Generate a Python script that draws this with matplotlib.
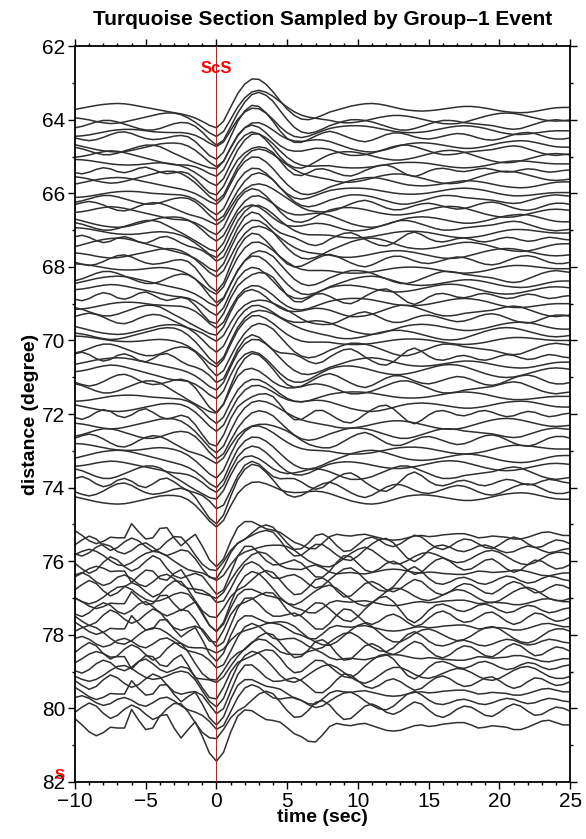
import numpy as np
import matplotlib.pyplot as plt

plt.rcParams['font.family'] = ['Liberation Sans', 'DejaVu Sans']

# time samples of every trace (sec)
time = np.arange(-10, 25.5, 0.5)

# baseline distance of each trace (degree)
dist = [63.72, 63.95, 64.12, 64.30, 64.45, 64.68, 64.85, 65.02, 65.20, 65.38,
        65.55, 65.75, 65.98, 66.15, 66.35, 66.52, 66.70, 66.90, 67.08, 67.25,
        67.45, 67.62, 67.82, 68.05, 68.25, 68.45, 68.62, 68.80, 69.00, 69.22,
        69.40, 69.62, 69.80, 70.00, 70.22, 70.45, 70.65, 70.85, 71.08, 71.30,
        71.52, 71.75, 72.00, 72.25, 72.50, 72.72, 72.95, 73.20, 73.42, 73.62,
        73.85, 74.05, 74.25,
        75.30, 75.50, 75.68, 75.90, 76.12, 76.32, 76.50, 76.72, 76.92, 77.10,
        77.30, 77.55, 77.78, 78.00, 78.20, 78.42, 78.65, 78.85, 79.05, 79.30,
        79.55, 79.80, 80.05, 80.45]

# ScS trough (at 0 s) and following peak (~2.7 s) size per trace
dip_amp = [0.50, 0.45, 0.55, 0.48, 0.52, 0.60, 0.50, 0.58, 0.55, 0.62,
           0.60, 0.55, 0.65, 0.58, 0.62, 0.66, 0.60, 0.70, 0.62, 0.65,
           0.68, 0.60, 0.72, 0.65, 0.70, 0.62, 0.75, 0.68, 0.72, 0.66,
           0.75, 0.70, 0.78, 0.68, 0.72, 0.76, 0.70, 0.80, 0.74, 0.70,
           0.78, 0.72, 0.80, 0.75, 0.70, 0.78, 0.74, 0.80, 0.76, 0.72,
           0.80, 0.78, 0.82,
           0.72, 0.78, 0.70, 0.82, 0.75, 0.80, 0.72, 0.84, 0.78, 0.70,
           0.80, 0.75, 0.82, 0.72, 0.78, 0.84, 0.76, 0.80, 0.72, 0.82,
           0.78, 0.84, 0.80, 0.82]
peak_amp = [0.78, 0.72, 0.80, 0.70, 0.75, 0.68, 0.74, 0.70, 0.76, 0.66,
            0.72, 0.68, 0.74, 0.65, 0.70, 0.66, 0.72, 0.62, 0.68, 0.70,
            0.64, 0.70, 0.62, 0.66, 0.60, 0.68, 0.62, 0.66, 0.58, 0.64,
            0.60, 0.66, 0.58, 0.62, 0.60, 0.55, 0.62, 0.56, 0.60, 0.58,
            0.54, 0.60, 0.55, 0.58, 0.52, 0.56, 0.55, 0.50, 0.56, 0.52,
            0.50, 0.54, 0.48,
            0.45, 0.40, 0.48, 0.42, 0.38, 0.45, 0.40, 0.36, 0.44, 0.40,
            0.38, 0.42, 0.36, 0.40, 0.44, 0.35, 0.40, 0.38, 0.42, 0.36,
            0.40, 0.38, 0.42, 0.48]

# which background wiggle each trace carries, and how strong (signed)
noise_id = [0, 3, 5, 7, 2, 0, 5, 3, 7, 6,
            3, 0, 7, 5, 2, 3, 0, 5, 7, 6,
            0, 3, 2, 7, 5, 0, 3, 6, 7, 5,
            2, 0, 3, 7, 5, 6, 0, 3, 2, 5,
            7, 0, 6, 3, 5, 2, 7, 0, 3, 5,
            6, 2, 0,
            1, 4, 6, 2, 4, 1, 6, 4, 2, 1,
            6, 4, 1, 2, 6, 4, 1, 6, 2, 4,
            1, 6, 4, 1]
noise_amp = [0.18, 0.22, -0.20, 0.25, 0.15, -0.22, 0.20, -0.25, -0.20, 0.15,
             0.25, 0.20, 0.22, -0.18, -0.16, -0.22, -0.25, 0.20, -0.24, -0.18,
             0.26, 0.20, 0.18, -0.22, -0.25, 0.22, -0.20, 0.20, 0.26, 0.22,
             -0.18, -0.24, 0.25, -0.20, -0.24, -0.22, 0.20, -0.26, 0.20, 0.25,
             0.22, -0.20, 0.24, 0.22, -0.20, -0.22, -0.25, 0.24, -0.20, 0.26,
             -0.25, 0.22, -0.22,
             0.32, 0.26, 0.30, -0.28, -0.30, -0.26, -0.32, 0.28, 0.30, 0.27,
             0.34, -0.28, 0.30, -0.32, -0.26, 0.30, -0.28, 0.32, 0.27, -0.26,
             0.30, -0.24, 0.28, 0.42]

dip_shape = [0.0] * 13 + [0.02, 0.05, 0.1, 0.2, 0.36, 0.58, 0.83, 1.0,
                          0.8, 0.42, 0.15, 0.04] + [0.0] * 46
peak_shape = [0.0] * 21 + [-0.08, -0.3, -0.58, -0.83, -0.98, -0.98, -0.83,
                           -0.6, -0.33, -0.1, 0.06, 0.14, 0.14, 0.09,
                           0.04] + [0.0] * 35

noise_bank = [
    [0.0, -0.2, -0.4, -0.6, -0.75, -0.85, -0.9, -0.85, -0.7, -0.5,
     -0.3, -0.1, 0.1, 0.25, 0.35, 0.4, 0.38, 0.3, 0.2, 0.1,
     0.0, -0.1, -0.2, -0.3, -0.35, -0.35, -0.3, -0.2, -0.05, 0.15,
     0.4, 0.65, 0.85, 0.95, 0.9, 0.7, 0.4, 0.1, -0.2, -0.5,
     -0.7, -0.85, -0.9, -0.8, -0.6, -0.35, -0.1, 0.1, 0.2, 0.25,
     0.2, 0.1, -0.05, -0.2, -0.35, -0.45, -0.45, -0.35, -0.2, 0.0,
     0.2, 0.35, 0.45, 0.5, 0.45, 0.3, 0.1, -0.1, -0.25, -0.3,
     -0.3],
    [-0.4, 0.0, 0.45, 0.7, 0.5, 0.15, 0.2, 0.2, -1.0, -0.3,
     0.3, 0.2, -0.6, -0.7, 0.1, 0.65, -0.1, -0.9, -0.4, 0.2,
     0.4, 0.3, 0.0, -0.2, -0.1, 0.2, 0.5, 0.6, 0.4, 0.2,
     0.3, 0.5, 0.6, 0.9, 1.0, 0.6, 0.1, -0.1, 0.0, 0.05,
     -0.05, -0.1, 0.05, 0.2, 0.35, 0.4, 0.35, 0.2, 0.05, 0.0,
     0.1, 0.05, -0.05, -0.1, -0.15, -0.15, 0.0, 0.2, 0.15, 0.05,
     0.1, 0.15, 0.3, 0.3, 0.15, -0.05, -0.25, -0.3, -0.15, 0.0,
     0.0],
    [0.3, 0.6, 0.8, 0.6, 0.2, -0.3, -0.7, -0.8, -0.5, 0.0,
     0.4, 0.6, 0.5, 0.2, -0.2, -0.5, -0.6, -0.3, 0.2, 0.6,
     0.7, 0.5, 0.1, -0.3, -0.6, -0.7, -0.5, -0.1, 0.3, 0.7,
     0.9, 0.8, 0.4, -0.1, -0.5, -0.8, -0.9, -0.6, -0.1, 0.4,
     0.8, 1.0, 0.7, 0.2, -0.3, -0.6, -0.6, -0.3, 0.1, 0.4,
     0.5, 0.3, 0.0, -0.3, -0.5, -0.4, -0.1, 0.3, 0.6, 0.7,
     0.5, 0.1, -0.3, -0.6, -0.7, -0.5, -0.1, 0.3, 0.5, 0.5,
     0.3],
    [0.0, 0.1, 0.25, 0.45, 0.6, 0.7, 0.65, 0.5, 0.3, 0.1,
     -0.1, -0.3, -0.5, -0.65, -0.7, -0.6, -0.4, -0.2, 0.0, 0.15,
     0.25, 0.3, 0.3, 0.25, 0.15, 0.0, -0.2, -0.45, -0.7, -0.9,
     -1.0, -0.95, -0.8, -0.55, -0.25, 0.05, 0.3, 0.5, 0.6, 0.6,
     0.5, 0.35, 0.15, -0.05, -0.2, -0.3, -0.3, -0.2, -0.05, 0.15,
     0.35, 0.55, 0.7, 0.75, 0.7, 0.55, 0.3, 0.05, -0.2, -0.4,
     -0.55, -0.6, -0.55, -0.4, -0.2, 0.0, 0.2, 0.35, 0.4, 0.35,
     0.25],
    [0.2, -0.3, -0.7, -0.4, 0.3, 0.8, 0.5, -0.1, -0.5, -0.2,
     0.4, 0.9, 0.6, -0.2, -0.8, -0.9, -0.4, 0.2, 0.5, 0.3,
     -0.1, -0.3, 0.0, 0.5, 0.8, 0.5, -0.1, -0.6, -0.7, -0.3,
     0.2, 0.6, 0.4, -0.2, -0.9, -1.0, -0.5, 0.3, 0.9, 0.8,
     0.2, -0.4, -0.6, -0.3, 0.2, 0.4, 0.1, -0.4, -0.8, -0.6,
     0.0, 0.5, 0.7, 0.4, -0.1, -0.4, -0.3, 0.1, 0.5, 0.6,
     0.2, -0.3, -0.6, -0.4, 0.1, 0.5, 0.4, 0.0, -0.3, -0.2,
     0.1],
    [-0.5, -0.3, 0.0, 0.3, 0.5, 0.5, 0.3, 0.0, -0.3, -0.6,
     -0.8, -0.8, -0.6, -0.2, 0.2, 0.5, 0.7, 0.7, 0.5, 0.2,
     -0.1, -0.3, -0.4, -0.4, -0.2, 0.1, 0.4, 0.6, 0.7, 0.5,
     0.2, -0.2, -0.5, -0.7, -0.7, -0.5, -0.2, 0.1, 0.4, 0.6,
     0.6, 0.5, 0.3, 0.0, -0.3, -0.6, -0.8, -0.8, -0.6, -0.3,
     0.0, 0.3, 0.5, 0.5, 0.4, 0.2, 0.1, 0.0, -0.1, -0.2,
     -0.4, -0.6, -0.7, -0.6, -0.3, 0.0, 0.3, 0.5, 0.6, 0.5,
     0.4],
    [0.4, 0.6, 0.3, -0.2, -0.5, -0.3, 0.2, 0.4, 0.1, -0.4,
     -0.6, -0.2, 0.3, 0.5, 0.2, -0.2, -0.3, 0.0, 0.4, 0.6,
     0.3, -0.1, -0.2, 0.0, 0.3, 0.3, 0.0, -0.4, -0.6, -0.3,
     0.2, 0.5, 0.3, -0.2, -0.6, -0.5, 0.0, 0.5, 0.9, 1.0,
     0.6, 0.0, -0.5, -0.9, -1.0, -0.6, 0.1, 0.8, 1.1, 0.7,
     0.1, -0.3, -0.4, -0.2, 0.1, 0.2, 0.0, -0.3, -0.4, -0.2,
     0.1, 0.3, 0.2, -0.1, -0.3, -0.2, 0.1, 0.3, 0.2, 0.0,
     -0.1],
    [0.6, 0.55, 0.45, 0.3, 0.15, 0.0, -0.1, -0.15, -0.15, -0.1,
     0.0, 0.1, 0.15, 0.15, 0.1, 0.0, -0.1, -0.2, -0.25, -0.25,
     -0.2, -0.1, 0.0, 0.1, 0.2, 0.3, 0.35, 0.4, 0.45, 0.5,
     0.5, 0.45, 0.35, 0.2, 0.05, -0.1, -0.25, -0.4, -0.5, -0.55,
     -0.55, -0.5, -0.4, -0.25, -0.1, 0.05, 0.15, 0.2, 0.2, 0.15,
     0.05, -0.1, -0.25, -0.4, -0.5, -0.55, -0.5, -0.4, -0.25, -0.05,
     0.15, 0.3, 0.4, 0.4, 0.35, 0.25, 0.15, 0.05, 0.0, 0.0,
     0.0],
]

fig = plt.figure(figsize=(5.86, 8.39), dpi=100)
ax = fig.add_axes([0.128, 0.068, 0.845, 0.877])

dip_shape = np.array(dip_shape)
peak_shape = np.array(peak_shape)
noise_bank = np.array(noise_bank)

for i in range(len(dist)):
    trace = (dist[i] + dip_amp[i] * dip_shape + peak_amp[i] * peak_shape
             + noise_amp[i] * noise_bank[noise_id[i]])
    ax.plot(time, trace, color='#303030', lw=1.1, solid_joinstyle='round')

ax.axvline(0, color='red', lw=0.7, zorder=5)
ax.text(0, 62.6, 'ScS', color='red', fontsize=12, fontweight='bold',
        ha='center', va='center')
ax.text(-11.1, 81.8, 'S', color='red', fontsize=11, fontweight='bold',
        ha='center', va='center', clip_on=False)

ax.set_xlim(-10, 25)
ax.set_ylim(82, 62)
ax.set_xticks(np.arange(-10, 26, 5))
ax.set_xticks(np.arange(-10, 26, 1), minor=True)
ax.set_yticks(np.arange(62, 83, 2))
ax.set_yticks(np.arange(62, 83, 1), minor=True)
ax.tick_params(which='both', direction='out', top=True, right=True,
               labelsize=15, width=1.0, pad=2)
ax.tick_params(which='major', length=5)
ax.tick_params(which='minor', length=2.5)
for s in ax.spines.values():
    s.set_linewidth(1.3)

ax.set_xlabel('time (sec)', fontsize=14, fontweight='bold', labelpad=-1)
ax.set_ylabel('distance (degree)', fontsize=14, fontweight='bold', labelpad=2)
ax.set_title('Turquoise Section Sampled by Group\u20131 Event', fontsize=15,
             fontweight='bold', pad=15)

fig.savefig('out.png', dpi=100)
